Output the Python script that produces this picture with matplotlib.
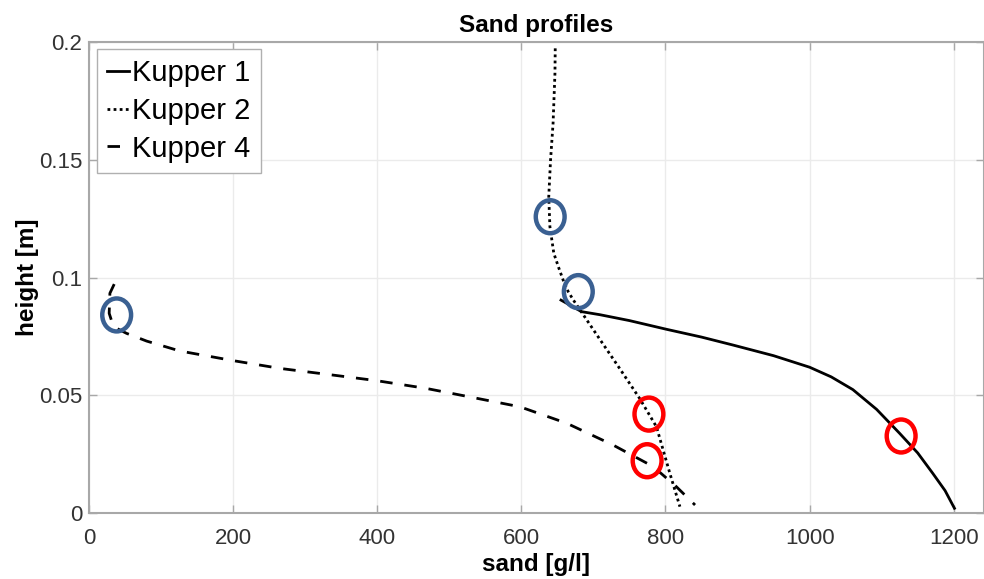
import matplotlib
matplotlib.use("Agg")
import matplotlib.pyplot as plt
from matplotlib.patches import Ellipse

plt.rcParams['font.family'] = ['Liberation Sans', 'DejaVu Sans']

# Data (sand [g/l], height [m])
k1_sand = [655, 683.5, 709, 750, 801.5, 850, 893.9, 950, 1000, 1030, 1060, 1093, 1125,
           1150, 1171, 1188, 1201]
k1_height = [0.0904, 0.0855, 0.0842, 0.0817, 0.0780, 0.0747, 0.0713, 0.0668, 0.0619,
             0.0578, 0.0524, 0.0440, 0.0338, 0.0255, 0.0168, 0.0095, 0.0020]

k2_sand = [647, 646.6, 644, 640.5, 638, 639.6, 645, 652, 658, 665, 672, 709, 735, 764,
           787.5, 806, 820]
k2_height = [0.1973, 0.1867, 0.1655, 0.1499, 0.1343, 0.1216, 0.1103, 0.1040, 0.0989,
             0.0940, 0.0905, 0.0737, 0.0620, 0.0487, 0.0366, 0.0169, 0.0027]

k4_sand = [35, 29, 28, 34, 52, 80, 126, 200, 265, 348, 399, 468, 530, 598, 663, 727,
           783, 815, 841]
k4_height = [0.0972, 0.0933, 0.0848, 0.0791, 0.0763, 0.0730, 0.0688, 0.0647, 0.0614,
             0.0582, 0.0562, 0.0529, 0.0492, 0.0451, 0.0381, 0.0289, 0.0197, 0.0112,
             0.0034]

labels = ["Kupper 1", "Kupper 2", "Kupper 4"]

# Annotation ellipses
blue_x = [640, 679, 38.4]
blue_y = [0.1258, 0.0940, 0.0841]
red_x = [777, 774.5, 1127]
red_y = [0.0420, 0.0222, 0.0327]

x_ticks = [0, 200, 400, 600, 800, 1000, 1200]
y_ticks = [0, 0.05, 0.1, 0.15, 0.2]
y_tick_labels = ["0", "0.05", "0.1", "0.15", "0.2"]

fig = plt.figure(figsize=(9.84, 5.79), dpi=100)
ax = fig.add_axes([89/984, 1 - 513/579, (984 - 89)/984, (513 - 42)/579])

lw = 2.0
ax.plot(k1_sand, k1_height, color='black', lw=lw, linestyle='-', label=labels[0])
ax.plot(k2_sand, k2_height, color='black', lw=lw, linestyle=(0, (1, 1.2)),
        dash_capstyle='butt', label=labels[1])
ax.plot(k4_sand, k4_height, color='black', lw=lw, linestyle=(0, (4.5, 4.3)),
        dash_capstyle='butt', label=labels[2])

ew, eh = 40, 0.0140
for x, y in zip(blue_x, blue_y):
    ax.add_patch(Ellipse((x, y), ew, eh, fill=False, edgecolor='#3a6092', lw=3.2, zorder=5))
for x, y in zip(red_x, red_y):
    ax.add_patch(Ellipse((x, y), ew, eh, fill=False, edgecolor='#ff0000', lw=3.2, zorder=5))

ax.set_xlim(0, 1242)
ax.set_ylim(0, 0.2)
ax.set_xticks(x_ticks)
ax.set_xticklabels([str(t) for t in x_ticks])
ax.set_yticks(y_ticks)
ax.set_yticklabels(y_tick_labels)

ax.grid(True, color='#ebebeb', lw=1.0)
ax.set_axisbelow(True)
for s in ax.spines.values():
    s.set_color('#a8a8a8')
    s.set_linewidth(1.5)
ax.tick_params(direction='in', length=6, width=1, color='#a8a8a8', labelcolor='#333333',
               labelsize=16, top=True, right=True)
ax.tick_params(axis='x', pad=11)
ax.tick_params(axis='y', pad=5)

ax.set_title("Sand profiles", fontsize=17.5, fontweight='bold', pad=7)
ax.set_xlabel("sand [g/l]", fontsize=17.5, fontweight='bold', labelpad=3)
ax.set_ylabel("height [m]", fontsize=17.5, fontweight='bold', labelpad=0)

leg = ax.legend(loc='upper left', bbox_to_anchor=(0.009, 0.985), fontsize=21,
                handlelength=0.75, handletextpad=0.1, borderpad=0.35, labelspacing=0.33,
                borderaxespad=0, fancybox=False, framealpha=1)
leg.get_frame().set_edgecolor('#b0b0b0')
leg.get_frame().set_linewidth(1.0)

fig.savefig("out.png", dpi=100)
